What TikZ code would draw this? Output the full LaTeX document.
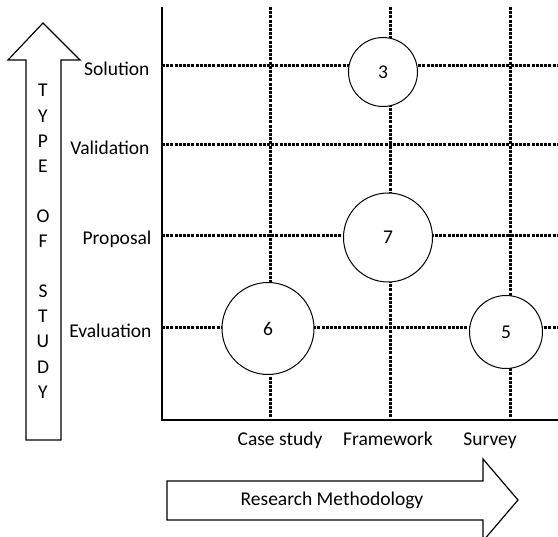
\documentclass[tikz,border=0pt]{standalone}
\usepackage{fontspec}
\setmainfont{Carlito}
\tikzset{
  gridline/.style={line width=3pt, dash pattern=on 3pt off 1.2pt},
  bubble/.style={circle, draw, line width=1pt, fill=white, inner sep=0pt},
  lbl/.style={font=\fontsize{19.5}{23}\selectfont},
  bigarrow/.style={draw, line width=1.2pt, fill=white, line join=miter}
}
\begin{document}
\begin{tikzpicture}[x=1pt,y=-1pt]
    \useasboundingbox (0,0) rectangle (558,537);
    % grid
    \foreach \x in {270,390,510}
        \draw[gridline] (\x,7) -- (\x,420);
    \foreach \y in {66,145,236,328}
        \draw[gridline] (162,\y) -- (558,\y);
    % axes
    \draw[line width=2.4pt] (162,7) -- (162,420) -- (558,420);
    % row labels
    \node[lbl, anchor=base east] (sol) at (153,76) {Solution};
    \node[lbl, anchor=base east] (val) at (153,155) {Validation};
    \node[lbl, anchor=base east] (pro) at (155,245) {Proposal};
    \node[lbl, anchor=base east] (eva) at (155,338) {Evaluation};
    % column labels
    \node[lbl, anchor=base] (cas) at (280,446) {Case study};
    \node[lbl, anchor=base] (fra) at (388,446) {Framework};
    \node[lbl, anchor=base] (sur) at (490,446) {Survey};
    % bubbles
    \node[bubble, lbl, minimum size=69pt] (b3) at (383,72) {3};
    \node[bubble, lbl, minimum size=89pt] (b7) at (388,237.5) {7};
    \node[bubble, lbl, minimum size=92pt] (b6) at (268,328.5) {6};
    \node[bubble, lbl, minimum size=73pt] (b5) at (506,332) {5};
    % type of study arrow
    \draw[bigarrow] (26,440) -- (26,60) -- (8,60) -- (43,23) -- (80,60)
        -- (61,60) -- (61,440) -- cycle;
    \foreach \l [count=\i from 0] in {T,Y,P,E,{},O,F,{},S,T,U,D,Y}
        \node[lbl, anchor=base] (t\i) at (43,97+25.1*\i) {\l};
    % research methodology arrow
    \draw[bigarrow] (167,481) -- (483,481) -- (483,459) -- (518,500)
        -- (483,541) -- (483,520) -- (167,520) -- cycle;
    \node[lbl, anchor=base] (rm) at (332,506) {Research Methodology};
\end{tikzpicture}
\end{document}
